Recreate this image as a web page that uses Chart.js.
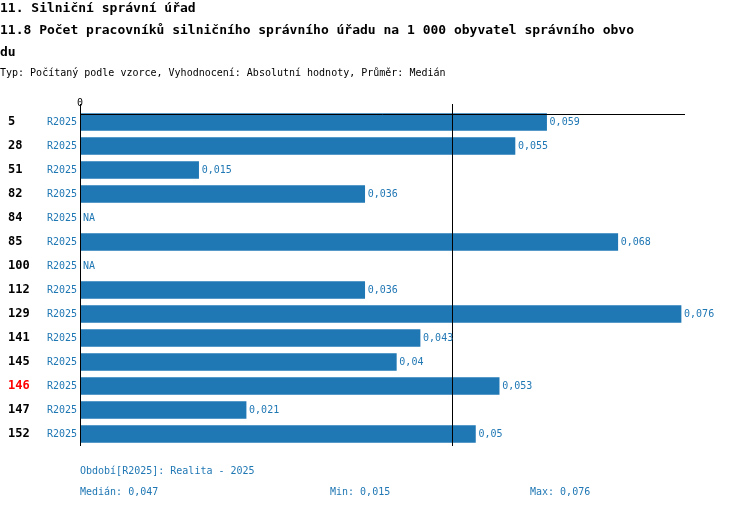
<!DOCTYPE html>
<html><head><meta charset="utf-8">
<script src="https://cdn.jsdelivr.net/npm/chart.js@4/dist/chart.umd.min.js"></script>
<style>body{margin:0;background:#fff}#wrap{width:750px;height:510px;position:relative}</style>
</head><body><div id="wrap"><canvas id="c" width="750" height="510"></canvas></div>
<script>
const ids = ['5','28','51','82','84','85','100','112','129','141','145','146','147','152'];
const values = [0.059,0.055,0.015,0.036,null,0.068,null,0.036,0.076,0.043,0.04,0.053,0.021,0.05];
const median = 0.047;
const blue = '#1f77b4';
const mono = '"DejaVu Sans Mono", monospace';

const fmt = v => String(v).replace('.', ',');

const decor = {
    id: 'decor',
    afterDraw(chart) {
        const {ctx, chartArea: a, scales: {x, y}} = chart;
        ctx.save();
        // titles
        ctx.fillStyle = '#000';
        ctx.textBaseline = 'top';
        ctx.font = 'bold 13px ' + mono;
        ctx.fillText('11. Silniční správní úřad', 0, 2);
        ctx.fillText('11.8 Počet pracovníků silničního správního úřadu na 1 000 obyvatel správního obvo', 0, 24);
        ctx.fillText('du', 0, 46);
        ctx.font = '10px ' + mono;
        ctx.fillText('Typ: Počítaný podle vzorce, Vyhodnocení: Absolutní hodnoty, Průměr: Medián', 0, 68);
        ctx.fillText('0', a.left - 3, 98);
        // axis lines
        ctx.strokeStyle = '#000';
        ctx.lineWidth = 1;
        ctx.beginPath();
        ctx.moveTo(a.left + 0.5, 104); ctx.lineTo(a.left + 0.5, a.bottom);
        ctx.moveTo(a.left, 114.5); ctx.lineTo(a.right, 114.5);
        const mx = Math.round(x.getPixelForValue(median)) + 0.5;
        ctx.moveTo(mx, 104); ctx.lineTo(mx, a.bottom);
        ctx.stroke();
        // row labels and values
        ctx.textBaseline = 'middle';
        ids.forEach((id, i) => {
            const yy = y.getPixelForValue(i);
            ctx.font = 'bold 12px ' + mono;
            ctx.fillStyle = id === '146' ? '#ff0000' : '#000';
            ctx.fillText(id, 8, yy);
            ctx.font = '10px ' + mono;
            ctx.fillStyle = blue;
            ctx.fillText('R2025', 47, yy);
            const v = values[i];
            const px = v == null ? a.left + 3 : x.getPixelForValue(v) + 3;
            ctx.fillText(v == null ? 'NA' : fmt(v), px, yy);
        });
        // footer
        ctx.font = '10px ' + mono;
        ctx.fillStyle = blue;
        ctx.fillText('Období[R2025]: Realita - 2025', 80, 471);
        ctx.fillText('Medián: ' + fmt(median), 80, 492);
        ctx.fillText('Min: ' + fmt(Math.min(...values.filter(v => v != null))), 330, 492);
        ctx.fillText('Max: ' + fmt(Math.max(...values.filter(v => v != null))), 530, 492);
        ctx.restore();
    }
};

new Chart(document.getElementById('c'), {
    type: 'bar',
    data: {
        labels: ids,
        datasets: [{ data: values, backgroundColor: blue, barThickness: 17 }]
    },
    options: {
        indexAxis: 'y',
        responsive: false,
        animation: false,
        layout: { padding: { left: 80, right: 65, top: 110, bottom: 64 } },
        scales: {
            x: { display: false, min: 0, max: 0.0765 },
            y: { display: false }
        },
        plugins: { legend: { display: false }, tooltip: { enabled: false } }
    },
    plugins: [decor]
});
</script></body></html>
